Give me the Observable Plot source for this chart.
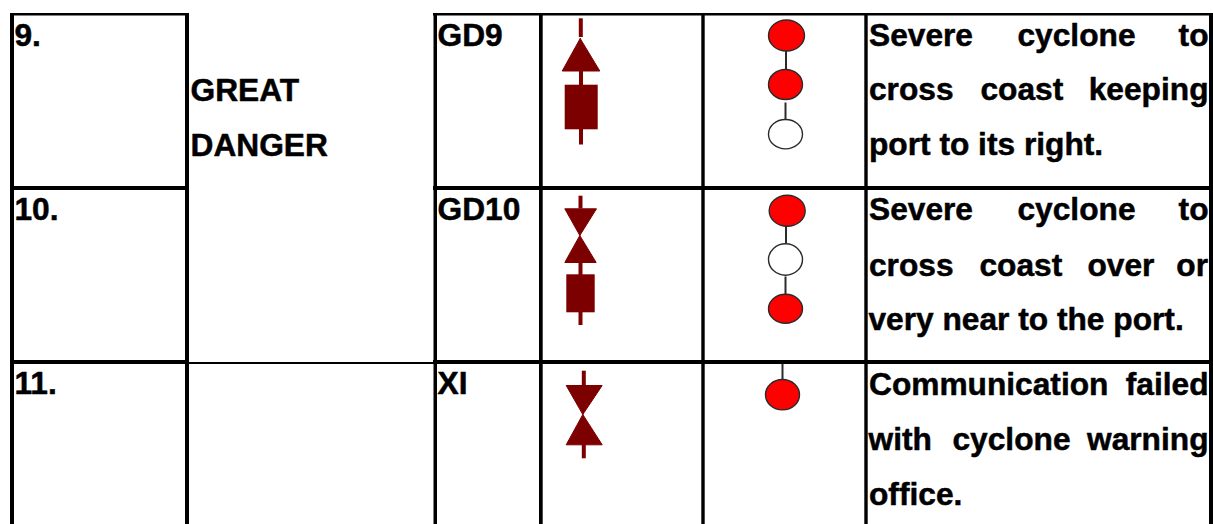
<!DOCTYPE html>
<html><head><meta charset="utf-8">
<script src="https://cdn.jsdelivr.net/npm/d3@7"></script>
<script src="https://cdn.jsdelivr.net/npm/@observablehq/plot@0.6"></script>
<style>html,body{margin:0;padding:0;background:#fff;overflow:hidden}svg{display:block}</style>
</head><body><div id="chart"></div>
<script>
// Table text
const serials = [["9.",14,45],["10.",14,219],["11.",14,393.5]];
const category = [["GREAT",190,100],["DANGER",190,155]];
const codes = [["GD9",437,45],["GD10",437,219],["XI",437,393.5]];
const wordsStart = [
  ["Severe",868.5,45],["cyclone",1017,45],
  ["cross",868.5,99.5],["coast",980,99.5],
  ["port to its right.",868.5,154],
  ["Severe",868.5,219],["cyclone",1017,219],
  ["cross",868.5,275],["coast",979,275],["over",1087,275],
  ["very near to the port.",868,329.5],
  ["Communication",868.5,394],
  ["with",868,449],["cyclone",952,449],
  ["office.",868.5,504]
];
const wordsEnd = [
  ["to",1208,45],["keeping",1208,99.5],["to",1208,219],["or",1207.5,275],
  ["failed",1208,394],["warning",1208,449]
];
// Grid: [x1,x2,y1,y2]
const gridRects = [
  [10,189,13,15.5],[433,1213,13,15.5],
  [10,189,186,190],[433,1213,186,190],
  [10,189,360,364],[189,433,362,364],[433,1213,360,364],
  [10,14,13,524],[185,189,13,524],[433.5,437,13,524],
  [539,542.7,13,524],[701.3,704.7,13,524],[864.3,867.7,13,524],[1209,1213,13,524]
];
// Cone-signal shapes: triangles [apexX,apexY,baseLeft,baseRight,baseY]
const cones = [
  [579.7,38,561.7,599.3,70.5],
  [579.3,235,564.3,596,208.3],
  [579.3,235,564.3,595.7,262],
  [582.3,414,565.7,601.7,385],
  [582.3,414,565.7,601.7,444.3]
];
const drums = [[564.7,597.7,84.7,129.3],[566.3,594.7,274.3,312.3]];
const masts = [
  [580.3,18.3,37],[580.5,70,85],[580.5,129,144.5],
  [580,195.7,208.5],[580,262,275],[580,312,325],
  [583.3,370.7,385.5],[583.3,444,458.3]
];
// Night lights: [x,y,rx,ry,fill]
const lights = [
  [786,35,18,15.5,"#ff0000"],[785,84,17,15,"#ff0000"],[785,133.7,17,14.7,"#ffffff"],
  [786.7,210.3,18,15.5,"#ff0000"],[785,259,17,15.7,"#ffffff"],[785,308.3,17,14.5,"#ff0000"],
  [782,394.2,17,15.2,"#ff0000"]
];
const wires = [
  [785.5,50,69],[785,102.5,119],
  [785.5,226,243],[785,276.5,294],
  [782,364,379]
];
const markerColor = "#7d0000";

const triPoints = cones.flatMap((c,i)=>[
  {i,x:c[0],y:c[1]},{i,x:c[2],y:c[4]},{i,x:c[3],y:c[4]},{i,x:c[0],y:c[1]}
]);
const textOpts = {fontFamily:"'Liberation Sans',Arial,sans-serif",fontWeight:"bold",fontSize:31.7,fill:"#000",stroke:"#000",strokeWidth:0.5,lineAnchor:"bottom"};
const K = 0.5523;
const ellipse = (rx,ry)=>({draw(ctx){
  ctx.moveTo(rx,0);
  ctx.bezierCurveTo(rx,K*ry,K*rx,ry,0,ry);
  ctx.bezierCurveTo(-K*rx,ry,-rx,K*ry,-rx,0);
  ctx.bezierCurveTo(-rx,-K*ry,-K*rx,-ry,0,-ry);
  ctx.bezierCurveTo(K*rx,-ry,rx,-K*ry,rx,0);
  ctx.closePath();
}});
const lightMarks = lights.map(l=>Plot.dot([l],{x:d=>d[0],y:d=>d[1],symbol:ellipse(l[2],l[3]),r:5,fill:d=>d[4],stroke:"#2a2a2a",strokeWidth:1.4}));
const txt = (arr,anchor)=>Plot.text(arr,{x:d=>d[1],y:d=>d[2],text:d=>d[0],textAnchor:anchor,...textOpts});

const chart = Plot.plot({
  width:1213,height:524,margin:0,
  style:{background:"#fff"},
  x:{type:"linear",domain:[0,1213],range:[0,1213],axis:null},
  y:{type:"linear",domain:[0,524],range:[0,524],axis:null},
  color:{type:"identity"},
  marks:[
    Plot.rect(gridRects,{x1:d=>d[0],x2:d=>d[1],y1:d=>d[2],y2:d=>d[3],fill:"#000"}),
    Plot.ruleX(masts,{x:d=>d[0],y1:d=>d[1],y2:d=>d[2],stroke:markerColor,strokeWidth:4}),
    Plot.line(triPoints,{x:"x",y:"y",z:"i",fill:markerColor,stroke:markerColor,strokeWidth:1,curve:"linear"}),
    Plot.rect(drums,{x1:d=>d[0],x2:d=>d[1],y1:d=>d[2],y2:d=>d[3],fill:markerColor}),
    Plot.ruleX(wires,{x:d=>d[0],y1:d=>d[1],y2:d=>d[2],stroke:"#2a2a2a",strokeWidth:2}),
    ...lightMarks,
    txt(serials,"start"),txt(category,"start"),txt(codes,"start"),
    txt(wordsStart,"start"),txt(wordsEnd,"end")
  ]
});
document.getElementById("chart").appendChild(chart);
</script></body></html>
